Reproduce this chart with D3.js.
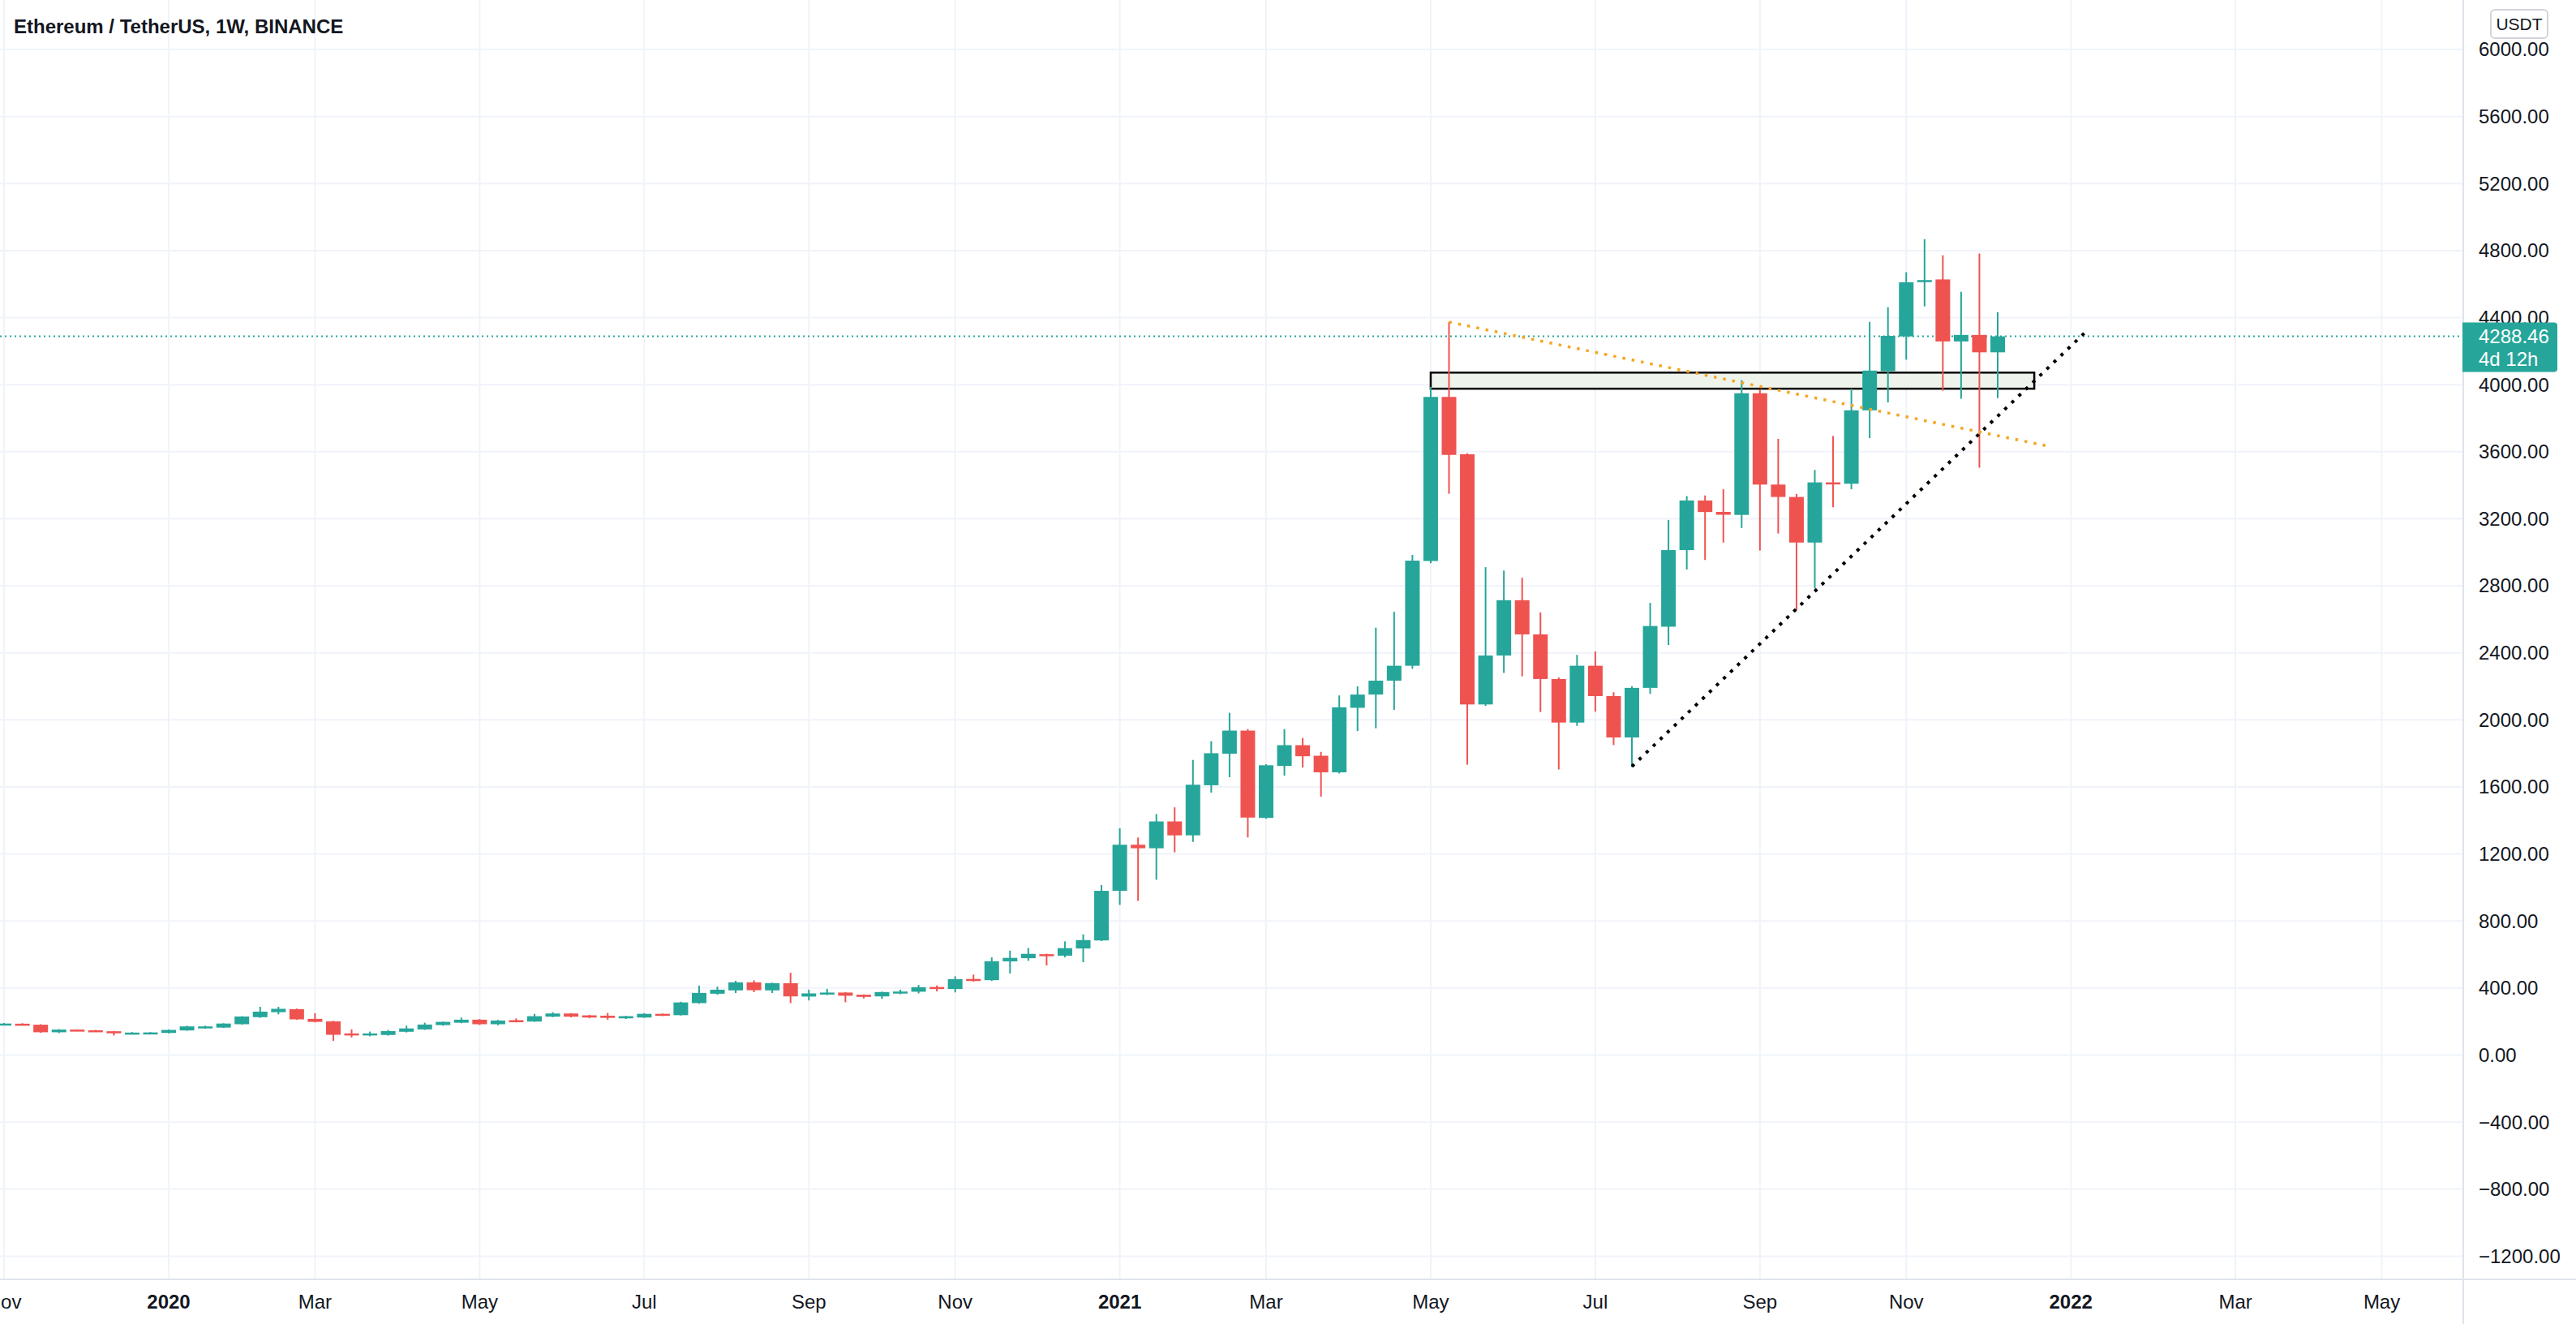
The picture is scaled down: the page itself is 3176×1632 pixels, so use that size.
<!DOCTYPE html>
<html>
<head>
<meta charset="utf-8">
<script src="https://cdn.jsdelivr.net/npm/d3@7"></script>
<style>
  html, body { margin: 0; padding: 0; background: #ffffff; }
  svg { display: block; }
  text { font-family: "Liberation Sans", Arial, sans-serif; }
</style>
</head>
<body>
<svg id="chart" width="3176" height="1632"></svg>
<script>
// ---------------- DATA ----------------
const title = "Ethereum / TetherUS, 1W, BINANCE";
const firstWeek = "2019-11-04"; // weekly candles, Monday open
const opens  = [181,187,181,136,152,148,142,128,128,132,147,163,164,184,226,256,274,216,201,129,117,120,139,153,179,193,211,184,208,200,229,248,237,235,219,224,246,238,310,366,386,434,386,429,349,363,373,360,350,371,378,406,394,454,447,559,578,602,593,636,684,980,1255,1234,1394,1311,1610,1798,1936,1415,1725,1849,1786,1687,2072,2151,2234,2323,2948,3927,3585,2092,2384,2714,2510,2244,1984,2323,2142,1895,2191,2556,3013,3309,3241,3223,3949,3404,3330,3058,3417,3409,3847,4081,4288,4615,4628,4258,4297,4193];
const highs  = [191,190,184,155,153,150,144,137,137,152,175,175,190,232,288,288,277,250,205,153,140,150,175,193,200,224,215,210,219,246,256,250,240,251,234,250,248,318,414,408,443,446,432,491,390,395,376,362,378,390,418,415,470,480,583,623,639,605,678,720,1014,1353,1298,1438,1478,1761,1873,2042,1945,1735,1945,1892,1809,2146,2200,2550,2645,2984,3986,4374,3590,2911,2891,2848,2641,2253,2388,2408,2165,2200,2698,3193,3335,3339,3376,4027,3972,3677,3348,3491,3694,3977,4375,4462,4671,4868,4772,4554,4782,4433];
const lows   = [178,178,133,131,144,139,117,125,126,130,145,158,162,182,222,243,210,195,85,105,112,116,135,150,175,190,180,178,195,198,226,225,220,211,215,222,233,236,306,360,370,375,370,310,326,358,315,338,335,363,368,380,374,438,442,487,562,535,583,554,680,896,920,1046,1210,1272,1566,1658,1298,1410,1667,1716,1542,1680,1933,1950,2059,2305,2935,3349,1733,2083,2280,2260,2047,1704,1964,2049,1850,1718,2155,2447,2897,2954,3058,3145,3010,3112,2655,2784,3269,3376,3681,3894,4149,4467,3964,3916,3505,3920];
const closes = [188,181,136,152,147,142,130,134,135,150,171,171,188,230,259,276,213,198,121,117,129,143,159,182,198,211,184,206,200,232,248,229,224,222,232,246,237,314,371,390,434,387,429,350,368,373,354,347,376,379,405,394,453,447,560,580,604,593,638,686,980,1255,1234,1394,1311,1613,1801,1936,1417,1729,1849,1783,1687,2075,2151,2234,2323,2950,3927,3581,2092,2384,2714,2510,2244,1984,2323,2142,1895,2191,2560,3013,3309,3240,3224,3949,3404,3330,3058,3417,3411,3847,4084,4291,4611,4624,4258,4297,4193,4288.46];

const lastPrice = 4288.46;
const countdown = "4d 12h";
const currency = "USDT";

const yTicks = [6000,5600,5200,4800,4400,4000,3600,3200,2800,2400,2000,1600,1200,800,400,0,-400,-800,-1200];
const xTickDates  = ["2019-11-04","2020-01-06","2020-03-02","2020-05-04","2020-07-06","2020-09-07","2020-11-02","2021-01-04","2021-03-01","2021-05-03","2021-07-05","2021-09-06","2021-11-01","2022-01-03","2022-03-07","2022-05-02"];
const xTickLabels = ["Nov","2020","Mar","May","Jul","Sep","Nov","2021","Mar","May","Jul","Sep","Nov","2022","Mar","May"];
const xTickBold   = [false,true,false,false,false,false,false,true,false,false,false,false,false,true,false,false];

// drawings (date, price)
const zoneBox   = {from: "2021-05-03", to: "2021-12-20", top: 4072, bottom: 3976};
const orangeLine = [["2021-05-10", 4374], ["2021-12-26", 3631]];
const blackLine  = [["2021-07-19", 1722], ["2022-01-09", 4320]];

// ---------------- LAYOUT ----------------
const W = 3176, H = 1632;
const plotRight = 3037, plotBottom = 1577;
const UP = "#26a69a", DOWN = "#ef5350";
const parse = d3.utcParse("%Y-%m-%d");

const x = d3.scaleUtc()
  .domain([parse("2020-01-06"), parse("2022-01-03")])
  .range([208, 2553.2]);
const y = d3.scaleLinear().domain([0, 6000]).range([1300.5, 61]);

const start = parse(firstWeek);
const candles = opens.map((o, i) => ({
  date: d3.utcMonday.offset(start, i),
  o, h: highs[i], l: lows[i], c: closes[i]
}));

const svg = d3.select("#chart");
svg.append("rect").attr("width", W).attr("height", H).attr("fill", "#ffffff");

const defs = svg.append("defs");
defs.append("clipPath").attr("id", "plotClip")
  .append("rect").attr("x", 0).attr("y", 0).attr("width", plotRight).attr("height", plotBottom);

// grid
const grid = svg.append("g").attr("clip-path", "url(#plotClip)");
grid.selectAll("line.h").data(yTicks).join("line")
  .attr("x1", 0).attr("x2", plotRight)
  .attr("y1", d => y(d)).attr("y2", d => y(d))
  .attr("stroke", "#f0f3fa").attr("stroke-width", 2);
grid.selectAll("line.v").data(xTickDates).join("line")
  .attr("x1", d => x(parse(d))).attr("x2", d => x(parse(d)))
  .attr("y1", 0).attr("y2", plotBottom)
  .attr("stroke", "#f0f3fa").attr("stroke-width", 2);

const plot = svg.append("g").attr("clip-path", "url(#plotClip)");

// zone rectangle
plot.append("rect")
  .attr("x", x(parse(zoneBox.from)))
  .attr("y", y(zoneBox.top))
  .attr("width", x(parse(zoneBox.to)) - x(parse(zoneBox.from)))
  .attr("height", y(zoneBox.bottom) - y(zoneBox.top))
  .attr("fill", "#eef4ec").attr("stroke", "#000000").attr("stroke-width", 2.5);

// current price line
plot.append("line")
  .attr("x1", 0).attr("x2", plotRight)
  .attr("y1", y(lastPrice)).attr("y2", y(lastPrice))
  .attr("stroke", UP).attr("stroke-width", 2).attr("stroke-dasharray", "2,4");

// candles
const bodyW = 18;
const cg = plot.append("g");
cg.selectAll("line.wick").data(candles).join("line")
  .attr("x1", d => x(d.date)).attr("x2", d => x(d.date))
  .attr("y1", d => y(d.h)).attr("y2", d => y(d.l))
  .attr("stroke", d => d.c >= d.o ? UP : DOWN).attr("stroke-width", 2);
cg.selectAll("rect.body").data(candles).join("rect")
  .attr("x", d => x(d.date) - bodyW / 2)
  .attr("width", bodyW)
  .attr("y", d => y(Math.max(d.o, d.c)))
  .attr("height", d => Math.max(2.5, Math.abs(y(d.o) - y(d.c))))
  .attr("fill", d => d.c >= d.o ? UP : DOWN);

// trend lines
const lineGen = d3.line().x(d => x(parse(d[0]))).y(d => y(d[1]));
plot.append("path").attr("d", lineGen(orangeLine))
  .attr("fill", "none").attr("stroke", "#f5a623").attr("stroke-width", 3.5)
  .attr("stroke-dasharray", "3.5,8");
plot.append("path").attr("d", lineGen(blackLine))
  .attr("fill", "none").attr("stroke", "#000000").attr("stroke-width", 4)
  .attr("stroke-dasharray", "4,8");

// axes borders
svg.append("line").attr("x1", plotRight).attr("x2", plotRight).attr("y1", 0).attr("y2", H)
  .attr("stroke", "#e0e3eb").attr("stroke-width", 2);
svg.append("line").attr("x1", 0).attr("x2", W).attr("y1", plotBottom).attr("y2", plotBottom)
  .attr("stroke", "#e0e3eb").attr("stroke-width", 2);

// y-axis labels
const fmt = v => (v < 0 ? "\u2212" : "") + d3.format(".2f")(Math.abs(v));
svg.append("g").selectAll("text").data(yTicks).join("text")
  .attr("x", 3056).attr("y", d => y(d)).attr("dy", "0.35em")
  .attr("font-size", 24).attr("fill", "#131722")
  .text(d => fmt(d));

// x-axis labels
svg.append("g").selectAll("text").data(xTickDates).join("text")
  .attr("x", d => x(parse(d))).attr("y", 1613)
  .attr("text-anchor", "middle").attr("font-size", 24)
  .attr("font-weight", (d, i) => xTickBold[i] ? "bold" : "normal")
  .attr("fill", "#131722")
  .text((d, i) => xTickLabels[i]);

// price label
const pl = svg.append("g");
pl.append("path")
  .attr("d", () => {
    const x0 = plotRight - 1, x1 = 3153, y0 = y(lastPrice) - 17, y1 = y(lastPrice) + 44, r = 4;
    return `M${x0},${y0} H${x1 - r} Q${x1},${y0} ${x1},${y0 + r} V${y1 - r} Q${x1},${y1} ${x1 - r},${y1} H${x0} Z`;
  })
  .attr("fill", UP);
pl.append("text").attr("x", 3056).attr("y", y(lastPrice)).attr("dy", "0.35em")
  .attr("font-size", 24).attr("fill", "#ffffff").text(d3.format(".2f")(lastPrice));
pl.append("text").attr("x", 3056).attr("y", y(lastPrice) + 28).attr("dy", "0.35em")
  .attr("font-size", 24).attr("fill", "#ffffff").text(countdown);

// currency box
svg.append("rect").attr("x", 3071).attr("y", 12).attr("width", 70).attr("height", 35)
  .attr("rx", 5).attr("fill", "#ffffff").attr("stroke", "#d1d4dc").attr("stroke-width", 2);
svg.append("text").attr("x", 3106).attr("y", 30).attr("dy", "0.35em")
  .attr("text-anchor", "middle").attr("font-size", 21).attr("fill", "#131722").text(currency);

// title
svg.append("text").attr("x", 17).attr("y", 41)
  .attr("font-size", 24).attr("font-weight", "bold").attr("fill", "#131722")
  .text(title);
</script>
</body>
</html>
